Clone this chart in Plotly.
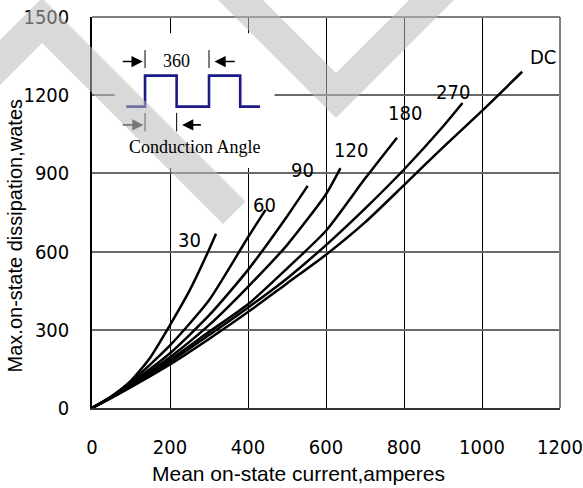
import plotly.graph_objects as go

# ---------------- data ----------------
x_30 = [0, 50, 100, 150, 200, 250, 300, 318]
y_30 = [0, 45, 105, 195, 318, 450, 607, 668]

x_60 = [0, 50, 100, 200, 300, 400, 445]
y_60 = [0, 44, 100, 240, 413, 655, 760]

x_90 = [0, 50, 100, 200, 300, 400, 500, 553]
y_90 = [0, 43, 95, 210, 355, 530, 735, 852]

x_120 = [0, 50, 100, 200, 300, 400, 500, 600, 637]
y_120 = [0, 42, 90, 195, 318, 465, 625, 820, 920]

x_180 = [0, 50, 100, 200, 300, 400, 500, 600, 700, 782]
y_180 = [0, 41, 86, 185, 292, 398, 535, 680, 880, 1037]

x_270 = [0, 50, 100, 200, 300, 400, 500, 600, 700, 800, 900, 950]
y_270 = [0, 40, 84, 176, 280, 385, 497, 625, 765, 915, 1080, 1170]

x_dc = [0, 50, 100, 200, 300, 400, 500, 600, 700, 800, 900, 1000, 1103]
y_dc = [0, 39, 80, 167, 265, 368, 478, 588, 712, 855, 1000, 1140, 1290]

series = [
    ("30", x_30, y_30),
    ("60", x_60, y_60),
    ("90", x_90, y_90),
    ("120", x_120, y_120),
    ("180", x_180, y_180),
    ("270", x_270, y_270),
    ("DC", x_dc, y_dc),
]

# curve label positions (data units)
label_pos = {
    "30": (249, 645),
    "60": (442, 778),
    "90": (541, 914),
    "120": (665, 990),
    "180": (803, 1131),
    "270": (925, 1214),
    "DC": (1156, 1348),
}

x_ticks = [0, 200, 400, 600, 800, 1000, 1200]
y_ticks = [0, 300, 600, 900, 1200, 1500]

x_title = "Mean on-state current,amperes"
y_title = "Max.on-state dissipation,wates"

NARROW = "Liberation Sans Narrow, Arial Narrow, DejaVu Sans Condensed, sans-serif"
SANS = "Liberation Sans, Arial, sans-serif"
SERIF = "Liberation Serif, Times New Roman, serif"

fig = go.Figure()
for name, xs, ys in series:
    fig.add_trace(go.Scatter(x=xs, y=ys, mode="lines", name=name,
                             line=dict(color="black", width=2.5, shape="spline", smoothing=0.6),
                             showlegend=False, hoverinfo="skip"))

annotations = []
for name, (lx, ly) in label_pos.items():
    annotations.append(dict(x=lx, y=ly, xref="x", yref="y", text=name, showarrow=False,
                            font=dict(family=NARROW, size=20, color="black")))

# axis titles
annotations.append(dict(x=0.441, y=-0.168, xref="paper", yref="paper", text=x_title,
                        showarrow=False, xanchor="center", yanchor="middle",
                        font=dict(family=SANS, size=21, color="black")))
annotations.append(dict(x=-0.1656, y=0.44, xref="paper", yref="paper", text=y_title,
                        showarrow=False, textangle=-90, xanchor="center", yanchor="middle",
                        font=dict(family=SANS, size=20, color="black")))

# ---------------- inset diagram (decoration, data units) ----------------
wave_lo, wave_hi = 1156, 1275
wx = [88, 136, 217, 300, 380, 431]
wave_path = (f"M {wx[0]},{wave_lo} L {wx[1]},{wave_lo} L {wx[1]},{wave_hi} L {wx[2]},{wave_hi} "
             f"L {wx[2]},{wave_lo} L {wx[3]},{wave_lo} L {wx[3]},{wave_hi} L {wx[4]},{wave_hi} "
             f"L {wx[4]},{wave_lo} L {wx[5]},{wave_lo}")

shapes = []
# white box behind inset (hides grid)
shapes.append(dict(type="rect", xref="x", yref="y", x0=58, x1=468, y0=921, y1=1438,
                   fillcolor="white", line=dict(width=0), layer="between"))
shapes.append(dict(type="path", xref="x", yref="y", path=wave_path,
                   line=dict(color="#1a1a8a", width=2.6), layer="above"))
# bars
for bx, y0, y1 in [(136, 1304, 1373), (300, 1304, 1373), (136, 1061, 1132), (217, 1061, 1132)]:
    shapes.append(dict(type="line", xref="x", yref="y", x0=bx, x1=bx, y0=y0, y1=y1,
                       line=dict(color="black", width=1), layer="above"))

arrows = [(75, 130, 1329, "black"), (370, 314, 1329, "black"),
          (75, 132, 1086, "#777777"), (283, 231, 1086, "black")]
for tail, head, ay, col in arrows:
    annotations.append(dict(x=head, y=ay, ax=tail, ay=ay, xref="x", yref="y", axref="x", ayref="y",
                            text="", showarrow=True, arrowhead=2, arrowsize=1.4, arrowwidth=1.6,
                            arrowcolor=col))
annotations.append(dict(x=217, y=1331, xref="x", yref="y", text="360", showarrow=False,
                        font=dict(family=SERIF, size=18, color="black")))
annotations.append(dict(x=263, y=1002, xref="x", yref="y", text="Conduction Angle", showarrow=False,
                        font=dict(family=SERIF, size=18, color="black")))

# top / right frame in gray
shapes.append(dict(type="line", xref="paper", yref="paper", x0=0, x1=1, y0=1, y1=1,
                   line=dict(color="#7f7f7f", width=2), layer="above"))
shapes.append(dict(type="line", xref="paper", yref="paper", x0=1, x1=1, y0=0, y1=1,
                   line=dict(color="#7f7f7f", width=2), layer="above"))

# ---------------- watermark (paper coords from pixel geometry) ----------------
L, R, T, B = 92, 560, 17, 408


def px2paper(px, py):
    return (px - L) / (R - L), (B - py) / (B - T)


def poly(points):
    pts = [px2paper(a, b) for a, b in points]
    return "M " + " L ".join(f"{a:.4f},{b:.4f}" for a, b in pts) + " Z"


wm_v = [(198, -20), (336, 118), (474, -20), (429, -20), (336, 73), (243, -20)]
wm_l = [(-60, 100), (42, -2), (245.5, 201.5), (223, 224), (42, 43), (-60, 145)]
for p in (wm_v, wm_l):
    shapes.append(dict(type="path", xref="paper", yref="paper", path=poly(p),
                       fillcolor="rgb(185,185,185)", opacity=0.55, line=dict(width=0),
                       layer="above"))

fig.update_layout(
    width=583, height=488,
    margin=dict(l=92, r=23, t=17, b=80, autoexpand=False),
    paper_bgcolor="white", plot_bgcolor="white",
    shapes=shapes, annotations=annotations,
    xaxis=dict(range=[0, 1200], tickvals=x_ticks, ticktext=[str(v) for v in x_ticks],
               showgrid=True, gridcolor="black", gridwidth=1, zeroline=False,
               showline=True, linecolor="#333333", linewidth=2, ticks="",
               ticklabelstandoff=20, ticklabeloverflow="allow", automargin=False,
               tickfont=dict(family=NARROW, size=20, color="black")),
    yaxis=dict(range=[0, 1500], tickvals=y_ticks, ticktext=[str(v) for v in y_ticks],
               showgrid=True, gridcolor="#6a6a6a", gridwidth=1.6, zeroline=False,
               showline=True, linecolor="black", linewidth=1.5, ticks="",
               ticklabelstandoff=17, ticklabeloverflow="allow", automargin=False,
               tickfont=dict(family=NARROW, size=20, color="black")),
)

fig.write_html("out.html")
